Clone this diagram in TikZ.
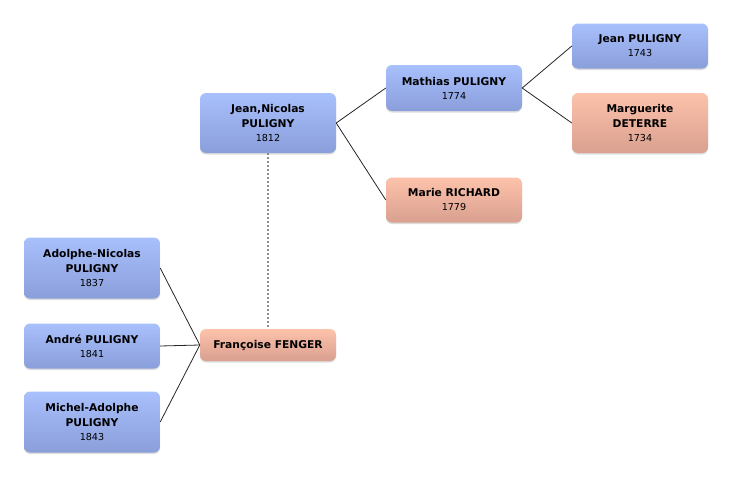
\documentclass[tikz,border=0pt]{standalone}
\usepackage{fontspec}
\setmainfont{DejaVu Sans}
\usetikzlibrary{shadows}
\definecolor{btop}{RGB}{168,192,252}
\definecolor{bbot}{RGB}{138,158,218}
\definecolor{ptop}{RGB}{252,194,170}
\definecolor{pbot}{RGB}{218,160,144}
\tikzset{
  person/.style={rounded corners=6pt, minimum width=136pt, inner sep=0pt, align=center,
    font={\fontsize{10.7}{15}\selectfont\bfseries},
    drop shadow={shadow xshift=0pt, shadow yshift=-1.5pt, opacity=0.22, fill=black!60}},
  male/.style={person, top color=btop, bottom color=bbot},
  female/.style={person, top color=ptop, bottom color=pbot},
  link/.style={draw=black!85, line width=0.8pt},
  spouse/.style={draw=black!45, line width=2pt, dash pattern=on 2pt off 2pt}
}
\newcommand{\yr}[1]{{\mdseries\fontsize{9.6}{11}\selectfont #1}}
\begin{document}
\begin{tikzpicture}[x=1pt,y=-1pt]
\useasboundingbox (0,0) rectangle (732,477);
\node[male, minimum height=60pt] (jn) at (268,123) {Jean,Nicolas\\PULIGNY\\[-1pt]\yr{1812}};
\node[male, minimum height=46pt] (ma) at (454,88) {Mathias PULIGNY\\[-1pt]\yr{1774}};
\node[female, minimum height=45pt] (mr) at (454,200) {Marie RICHARD\\[-1pt]\yr{1779}};
\node[male, minimum height=45pt] (jp) at (640,46) {Jean PULIGNY\\[-1pt]\yr{1743}};
\node[female, minimum height=60pt] (md) at (640,123) {Marguerite\\DETERRE\\[-1pt]\yr{1734}};
\node[male, minimum height=61pt] (an) at (92,268) {Adolphe-Nicolas\\PULIGNY\\[-1pt]\yr{1837}};
\node[male, minimum height=45pt] (ap) at (92,346) {André PULIGNY\\[-1pt]\yr{1841}};
\node[male, minimum height=61pt] (mi) at (92,422) {Michel-Adolphe\\PULIGNY\\[-1pt]\yr{1843}};
\node[female, minimum height=32pt] (ff) at (268,345) {Françoise FENGER};
\draw[link] (jn.east) -- (ma.west);
\draw[link] (jn.east) -- (mr.west);
\draw[link] (ma.east) -- (jp.west);
\draw[link] (ma.east) -- (md.west);
\draw[link] (an.east) -- (ff.west);
\draw[link] (ap.east) -- (ff.west);
\draw[link] (mi.east) -- (ff.west);
\draw[spouse] (jn.south) -- (ff.north);
\end{tikzpicture}
\end{document}
